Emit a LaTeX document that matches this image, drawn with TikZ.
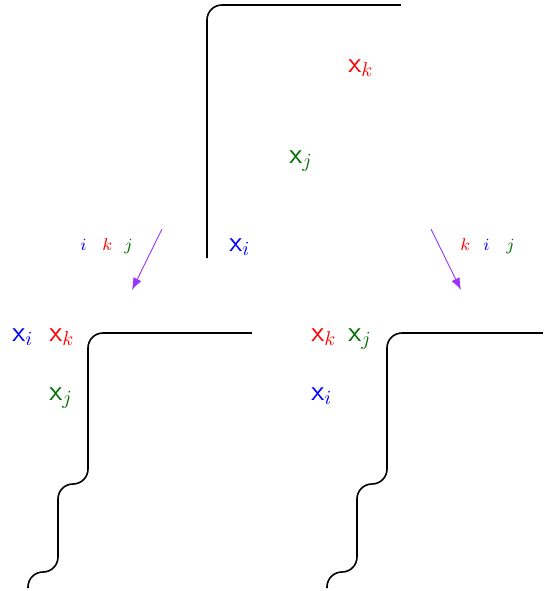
\documentclass[tikz,border=0pt]{standalone}
\usepackage{fix-cm}
\usetikzlibrary{arrows.meta}
\definecolor{cb}{rgb}{0,0,1}
\definecolor{cr}{rgb}{1,0,0}
\definecolor{cg}{RGB}{0,110,0}
\definecolor{cv}{RGB}{155,50,255}
\newcommand{\vx}[2]{\textcolor{#1}{\textsf{x}$_{#2}$}}
\newcommand{\smlab}[2]{\textcolor{#1}{$#2$}}
\tikzset{
  big/.style={anchor=base west,inner sep=0pt,font=\fontsize{14.4}{17}\selectfont},
  small/.style={anchor=base west,inner sep=0pt,font=\fontsize{8.5}{10}\selectfont},
  wall/.style={line width=0.8pt,rounded corners=7.5pt},
  mv/.style={draw=cv,line width=0.45pt,-{Latex[length=6pt,width=4.5pt]}}
}
\begin{document}
\begin{tikzpicture}[x=0.5pt,y=-0.5pt]
\useasboundingbox (0,0) rectangle (543,591);
% top
\draw[wall] (207,258) -- (207,5) -- (401,5);
\node[big] (tk) at (348,72) {\vx{cr}{k}};
\node[big] (tj) at (289,163) {\vx{cg}{j}};
\node[big] (ti) at (229,251) {\vx{cb}{i}};
% arrows
\coordinate (la) at (162,229); \coordinate (lb) at (132,290);
\coordinate (ra) at (431,229); \coordinate (rb) at (461,290);
\draw[mv] (la) -- (lb);
\draw[mv] (ra) -- (rb);
\node[small] (li) at (80,250) {\smlab{cb}{i}};
\node[small] (lk) at (102,250) {\smlab{cr}{k}};
\node[small] (lj) at (124,250) {\smlab{cg}{j}};
\node[small] (rk) at (460,250) {\smlab{cr}{k}};
\node[small] (ri) at (483,250) {\smlab{cb}{i}};
\node[small] (rj) at (506,250) {\smlab{cg}{j}};
% bottom left
\draw[wall] (28,588) -- (28,572) -- (58,572) -- (58,484) -- (88,484) -- (88,333) -- (252,333);
\node[big] (bli) at (12,341) {\vx{cb}{i}};
\node[big] (blk) at (49,341) {\vx{cr}{k}};
\node[big] (blj) at (49,400) {\vx{cg}{j}};
% bottom right
\draw[wall] (327,588) -- (327,572) -- (357,572) -- (357,484) -- (387,484) -- (387,333) -- (543,333);
\node[big] (brk) at (311,341) {\vx{cr}{k}};
\node[big] (brj) at (348,341) {\vx{cg}{j}};
\node[big] (bri) at (311,400) {\vx{cb}{i}};
\end{tikzpicture}
\end{document}
